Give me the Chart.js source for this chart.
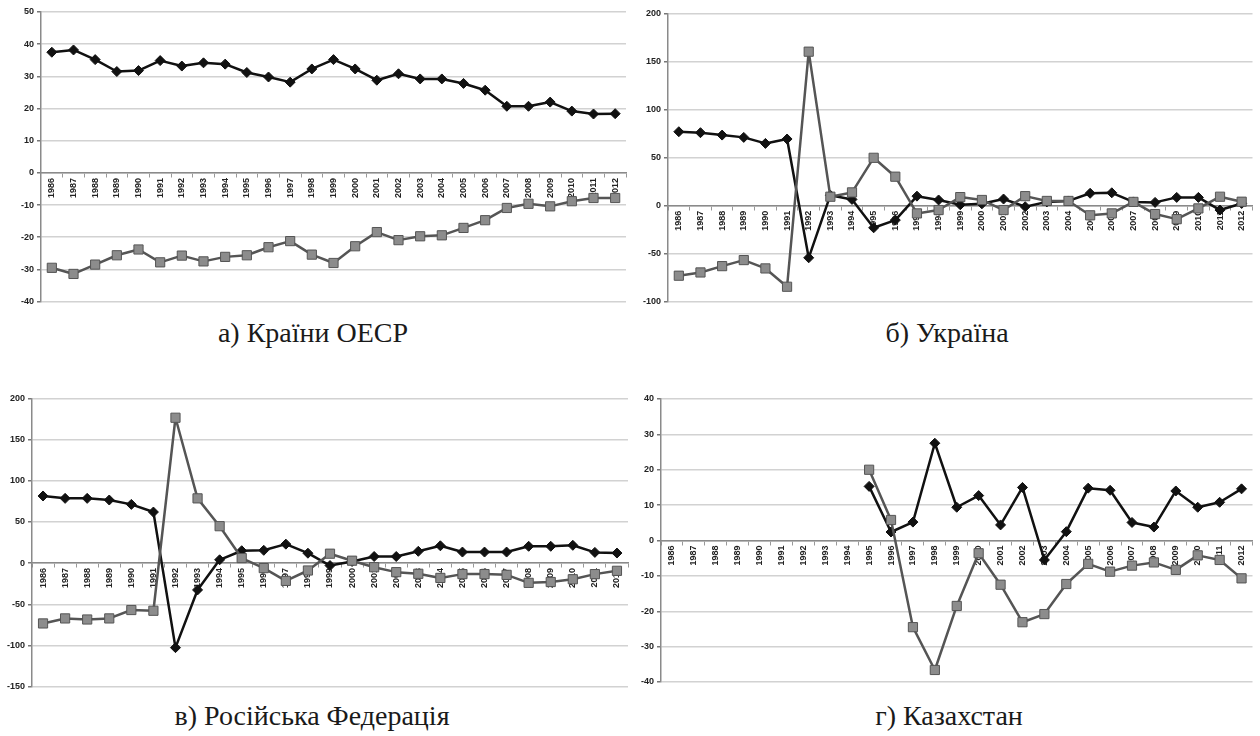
<!DOCTYPE html>
<html>
<head>
<meta charset="utf-8">
<script src="https://cdn.jsdelivr.net/npm/chart.js@4"></script>
<style>
  html, body { margin: 0; padding: 0; background: #fff; width: 1260px; height: 736px; overflow: hidden; }
  canvas { position: absolute; }
  .cap { position: absolute; font-family: "Liberation Serif", "Times New Roman", Times, "DejaVu Serif", "Noto Serif", serif; font-size: 28px; line-height: 28px; color: #1a1a1a; white-space: nowrap; transform: translateX(-50%); }
</style>
</head>
<body>
<canvas id="cA" width="640" height="310" style="left:0px;top:0px"></canvas>
<canvas id="cB" width="630" height="310" style="left:630px;top:0px"></canvas>
<canvas id="cC" width="640" height="305" style="left:0px;top:390px"></canvas>
<canvas id="cD" width="640" height="305" style="left:620px;top:390px"></canvas>
<div class="cap" style="left:313px;top:319px">а) Країни ОЕСР</div>
<div class="cap" style="left:947px;top:319px">б) Україна</div>
<div class="cap" style="left:312px;top:702px">в) Російська Федерація</div>
<div class="cap" style="left:949px;top:702px">г) Казахстан</div>
<script>
const years = ['1986','1987','1988','1989','1990','1991','1992','1993','1994','1995','1996','1997','1998','1999','2000','2001','2002','2003','2004','2005','2006','2007','2008','2009','2010','2011','2012'];

const oecdBlack = [37.5, 38.2, 35.2, 31.5, 31.8, 34.9, 33.2, 34.2, 33.8, 31.2, 29.8, 28.2, 32.3, 35.2, 32.3, 28.8, 30.8, 29.2, 29.2, 27.8, 25.7, 20.7, 20.7, 22.0, 19.2, 18.3, 18.4];
const oecdGray  = [-29.5, -31.4, -28.5, -25.6, -23.8, -27.8, -25.7, -27.5, -26.1, -25.6, -23.1, -21.2, -25.4, -28.0, -22.8, -18.4, -20.9, -19.7, -19.4, -17.1, -14.7, -10.9, -9.6, -10.4, -8.8, -7.8, -7.8];

const ukraineBlack = [77.2, 76.2, 73.7, 71.3, 65.0, 69.6, -54.3, 11.0, 6.6, -23.0, -15.0, 10.0, 6.0, 1.0, 2.0, 7.0, -1.0, 4.0, 5.0, 13.0, 13.5, 4.0, 3.5, 8.7, 8.7, -4.5, 2.4];
const ukraineGray  = [-73.0, -69.6, -63.0, -56.7, -65.4, -84.5, 160.7, 9.4, 13.9, 50.0, 30.3, -8.0, -4.5, 9.0, 6.0, -4.5, 10.0, 5.0, 5.0, -10.0, -8.0, 4.0, -8.7, -14.0, -2.8, 9.4, 4.2];

const russiaBlack = [81.5, 78.6, 78.6, 76.6, 71.3, 62.0, -102.7, -32.6, 4.0, 15.0, 15.5, 23.0, 12.0, -3.0, 2.0, 8.0, 8.0, 14.3, 21.0, 13.4, 13.4, 13.4, 20.4, 20.4, 21.6, 13.0, 12.2];
const russiaGray  = [-73.3, -67.2, -68.5, -67.2, -57.0, -57.9, 176.5, 78.6, 44.8, 6.1, -6.1, -21.6, -9.0, 11.4, 2.9, -5.0, -11.0, -13.0, -18.0, -13.4, -13.4, -14.3, -24.0, -23.0, -19.6, -13.4, -9.4];

const kazBlack = [null, null, null, null, null, null, null, null, null, 15.3, 2.4, 5.2, 27.5, 9.4, 12.7, 4.4, 15.0, -5.5, 2.5, 14.8, 14.2, 5.1, 3.8, 14.0, 9.4, 10.8, 14.6];
const kazGray  = [null, null, null, null, null, null, null, null, null, 20.0, 5.8, -24.5, -36.6, -18.5, -3.6, -12.5, -23.1, -20.8, -12.3, -6.6, -8.8, -7.1, -6.2, -8.3, -4.2, -5.5, -10.7];

const panels = [
  { id: 'cA', black: oecdBlack, gray: oecdGray, min: -40, max: 50, step: 10, yw: 41, pad: { top: 12, right: 14, bottom: 8, left: 0 } },
  { id: 'cB', black: ukraineBlack, gray: ukraineGray, min: -100, max: 200, step: 50, yw: 38, pad: { top: 14, right: 5, bottom: 8, left: 0 } },
  { id: 'cC', black: russiaBlack, gray: russiaGray, min: -150, max: 200, step: 50, yw: 32, pad: { top: 8, right: 12, bottom: 7, left: 0 } },
  { id: 'cD', black: kazBlack, gray: kazGray, min: -40, max: 40, step: 10, yw: 41, pad: { top: 9, right: 0, bottom: 13, left: 0 } }
];

panels.forEach(p => {
  new Chart(document.getElementById(p.id), {
    type: 'line',
    data: {
      labels: years,
      datasets: [
        {
          data: p.gray,
          borderColor: '#555',
          borderWidth: 2.5,
          borderJoinStyle: 'round',
          backgroundColor: '#8a8a8a',
          pointStyle: 'rect',
          pointRadius: 6.5,
          pointBorderColor: '#555',
          pointBorderWidth: 1,
          pointBackgroundColor: '#8c8c8c',
          tension: 0,
          spanGaps: false
        },
        {
          data: p.black,
          borderColor: '#111',
          borderWidth: 2.5,
          borderJoinStyle: 'round',
          backgroundColor: '#111',
          pointStyle: 'rectRot',
          pointRadius: 5,
          pointBorderColor: '#111',
          pointBackgroundColor: '#111',
          pointBorderWidth: 1,
          tension: 0,
          spanGaps: false
        }
      ]
    },
    options: {
      responsive: false,
      animation: false,
      devicePixelRatio: 1,
      layout: { padding: p.pad },
      plugins: { legend: { display: false }, tooltip: { enabled: false } },
      scales: {
        x: {
          type: 'category',
          position: { y: 0 },
          offset: true,
          grid: { display: true, drawOnChartArea: false, offset: true, tickLength: 4, tickColor: '#999', lineWidth: 1 },
          border: { display: true, color: '#8a8a8a', width: 1.5 },
          ticks: {
            autoSkip: false, minRotation: 90, maxRotation: 90, padding: 1,
            color: '#222',
            font: { family: 'Liberation Sans', size: 9, weight: 'bold' }
          }
        },
        y: {
          min: p.min, max: p.max,
          afterFit: s => { s.width = p.yw; },
          grid: { color: '#d2d2d2', lineWidth: 1.5, tickLength: 4, tickColor: '#777' },
          border: { display: true, color: '#8a8a8a', width: 1.5 },
          ticks: {
            stepSize: p.step, padding: 3,
            color: '#222',
            font: { family: 'Liberation Sans', size: 9, weight: 'bold' }
          }
        }
      }
    }
  });
});
</script>
</body>
</html>
